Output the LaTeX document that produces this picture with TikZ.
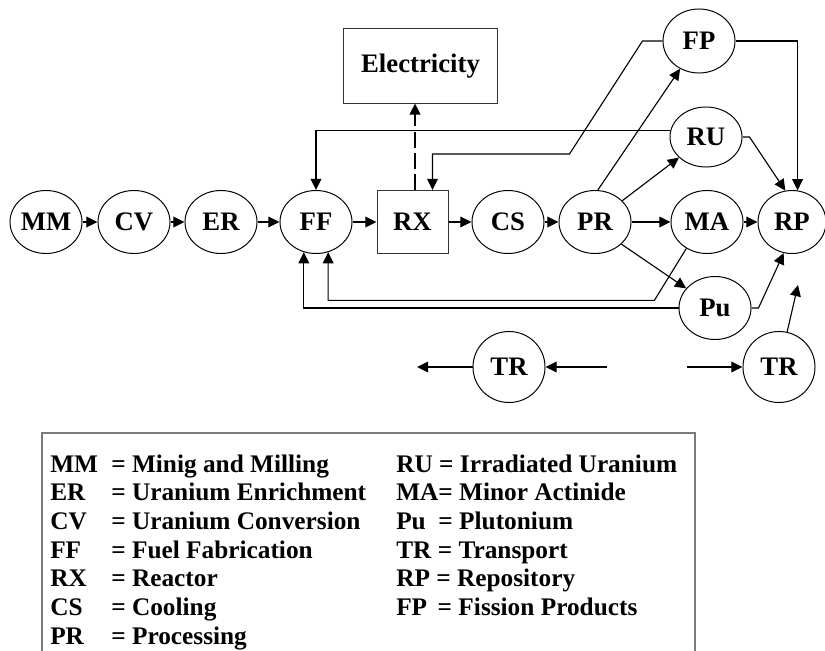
\documentclass[tikz,border=0pt]{standalone}
\usepackage{fontspec}
\setmainfont{Liberation Serif}
\usetikzlibrary{positioning,arrows.meta,calc,shapes.geometric}
\definecolor{ink}{HTML}{000000}
\definecolor{frame}{HTML}{7A7A7A}

\begin{document}
\begin{tikzpicture}[
      x=0.025cm, y=-0.025cm,
      stage/.style={draw=ink, ellipse, inner sep=0pt, minimum width=1.8cm,
                    minimum height=1.575cm, line width=0.7pt,
                    font=\fontsize{19}{21}\selectfont\bfseries},
      unit/.style={draw=ink!80, rectangle, inner sep=0pt, line width=0.7pt,
                   font=\fontsize{19}{21}\selectfont\bfseries},
      darrow/.style={-{Triangle[length=2.8mm,width=2.7mm]}, line width=0.8pt, color=ink},
      dashlink/.style={darrow, line width=1.3pt, dash pattern=on 4mm off 1.3mm},
      keytext/.style={anchor=base west, inner sep=0pt,
                      font=\fontsize{18}{20.4}\selectfont\bfseries},
    ]
      \useasboundingbox (0,0) rectangle (825,651);

      \node[stage] (mm) at (46,222) {MM};
      \node[stage] (cv) at (134,222) {CV};
      \node[stage] (er) at (221,222) {ER};
      \node[stage] (ff) at (316,222) {FF};
      \node[unit, minimum width=1.775cm, minimum height=1.575cm] (rx) at (412.5,222) {RX};
      \node[stage] (cs) at (508,222) {CS};
      \node[stage] (pr) at (595,222) {PR};
      \node[stage] (ma) at (707,222) {MA};
      \node[stage, minimum width=1.7cm] (rp) at (792,222) {RP};

      \node[stage, minimum height=1.6cm] (fp) at (699,41) {FP};
      \node[stage, minimum height=1.5cm] (ru) at (706,137) {RU};
      \node[stage] (pu) at (715,308) {Pu};
      \node[stage, minimum height=1.775cm] (trl) at (509,367) {TR};
      \node[stage, minimum height=1.775cm] (trr) at (779,367) {TR};

      \node[unit, minimum width=3.825cm, minimum height=1.85cm] (elec) at (420.5,66) {Electricity};

      \coordinate (trlin) at (607,367);
      \coordinate (trlout) at (417,367);
      \coordinate (trrin) at (687,367);
      \coordinate (trrup) at (798,285);

      % main chain
      \draw[darrow] (mm) -- (cv);
      \draw[darrow] (cv) -- (er);
      \draw[darrow] (er) -- (ff);
      \draw[darrow] (ff) -- (rx);
      \draw[darrow] (rx) -- (cs);
      \draw[darrow] (cs) -- (pr);
      \draw[darrow] (pr) -- (ma);
      \draw[darrow] (ma) -- (rp);
      \draw[dashlink] ($(rx.north)+(2.5,0)$) coordinate (rxtop) -- (rxtop |- elec.south);

      % branches out of processing
      \draw[darrow] (pr.85) -- (fp);
      \draw[darrow] (pr.38) -- (ru);
      \draw[darrow] (pr.-40) -- (pu);

      % recycling
      \draw[darrow] (ru.170) -| (ff.north);
      \draw[darrow] (fp.west) -- ++(-20,0) -- ++(-73,113) -| ($(rx.north)+(20,0)$);
      \draw[darrow] (ma.232) -- ++(-32,52) -| (ff.-68);
      \draw[darrow] (pu.west) -| (ff.-112);

      % to repository
      \draw[darrow] (fp.east) -| (rp.80);
      \draw[darrow] (ru.east) -- ++(7,0) -- (rp.102);
      \draw[darrow] (pu.east) -- ++(7,0) -- (rp.255);

      % transport
      \draw[darrow] (trlin) -- (trl);
      \draw[darrow] (trl) -- (trlout);
      \draw[darrow] (trrin) -- (trr);
      \draw[darrow] (trr) -- (trrup);

      % key
      \draw[frame, line width=1.2pt] (42,660) |- (695,433) -- (695,660);
      \node[keytext] (keyleft) at (50,472) {\begin{tabular}[t]{@{}p{1.525cm}@{}l@{}}
        MM & = Minig and Milling\\
        ER & = Uranium Enrichment\\
        CV & = Uranium Conversion\\
        FF & = Fuel Fabrication\\
        RX & = Reactor\\
        CS & = Cooling\\
        PR & = Processing
      \end{tabular}};
      \node[keytext] (keyright) at (396,472) {\begin{tabular}[t]{@{}l@{}}
        RU = Irradiated Uranium\\
        MA= Minor Actinide\\
        Pu\ \ = Plutonium\\
        TR = Transport\\
        RP = Repository\\
        FP\, = Fission Products
      \end{tabular}};
    \end{tikzpicture}
\end{document}
